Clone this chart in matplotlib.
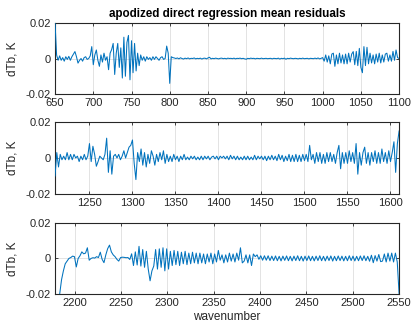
import numpy as np
import matplotlib
matplotlib.use("Agg")
import matplotlib.pyplot as plt

# mean residuals in mK (evenly spaced channels per band)
band1_range = (650, 1100)
band1_mk = [
    20, 2, -1, 1.5, -1,   0.5, -1.5, 1, -0.5, 1.2,   -1, 1, 2.5, 3.9, 1,
    -2.6, -1, 0, -1.5, 0.5,   1, -0.5, 0, 1.5, 6.7,   -3.5, 2, 4.8, -1, -4.4,
    2, -2, 3, -1, 1,   -6.3, 3, 5, 8.5, -9,   3, 8.5, -5, 6, -11,
    12, -10, 9, 13, -12,   10, -8, 8.5, -7, 3,   -4, 2, -1, 1, -1.5,
    1, -0.5, 0.5, -1, 1,   -0.5, 1, 0, -1, 0.5,   1, -0.5, 0, 7, 3,
    -14, 1, 0.5, 0.3, 0,
    0.3, -0.2, 0.4, 0, -0.3,   0.2, -0.1, 0.3, -0.2, 0.1,   0, 0.3, -0.2, 0.1, -0.1,
    0.2, -0.3, 0.1, 0.2, -0.2,   0.3, 0.7, -0.2, 0.1, -0.1,   0.2, 0, -0.2, 0.1, 0.2,
    -0.1, 0.1, -0.2, 0.2, 0,   0.1, -0.1, 0.2, -0.2, 0.1,   0, 0.2, -0.1, 0.1, -0.2,
    -0.4, 0.1, -0.1, 0.2, 0,   0.1, -0.2, 0.1, 0, -0.1,   0.2, -0.1, 0, 0.1, -0.1,
    0, 0.1, -0.2, 0.1, 0,   -0.1, 0.2, -0.3, 0.1, -0.1,   0.2, -0.4, 0.1, -0.1, 0.2,
    0, -0.1, 0.1, 0, -0.2,   0.1, -0.1, 0.2, -0.1, 0,   0.1, -0.2, 0.1, 0, -0.1,
    0.2, -0.1, 0.3, -0.2, 0.1,
    0.5, -1.5, 2, -2, 1.5,   -3, 2.5, 3, -4.4, 2,   -3, 3, -2.5, 2, -3,
    2.5, -3, 3, -2, 2.5,   3.9, -3.5, 4, -4, 5.7,   -5, -8, 6.7, -4, 6.3,
    -3, 3, -2.5, 2, -3,   2.5, -2, 3, -2.5, 2,   -2, 2.5, 3, -1.5, 2,
    -1.5, 4, -1, 4.8, 0.5,
    0,
]

band2_range = (1210, 1610)
band2_mk = [
    -10, 3, -5, 2, -1,   1, -1, 3, -1, 2,   -1, 2, 0, 1, -2,   1, -1, 2, -1, 1,
    8, -2, 6.5, 2, -4.6,   -2, 1, 0, -1, 2,   11, -8, 4, -9, 1,   2, 0, 2, -1, 1,
    4, 0, 3, 6, 7,   10, -3, -12, 3, -2,   5, -4, 3, -5, 2,   -3, 4, 1, -4, 2,
    -2, 3, -1, 4, -3,   2, -2, 1, -2, 2,   -1, 1, -2, 1, -1,   2, -1, 0.5, -1, 1,
    -0.5, 1, -1, 0.5, -1,   1, -1, 1, -0.5, 1,   -1, 0.5, 1, -0.5, 1,   -1, 1, 0, 1, -0.5,
    1, -1, 1.5, -0.5, 1,   -1, 1, -1, 0.5, -1,   1, -1, 1, -1, 0.5,   -1, 1.5, -1, 1, -0.5,
    1, -1, 1, -1.5, 1,   -1, 1.5, -1, 1, -1.5,   2, -1, 1.5, -2, 1,   -1.5, 2, -2, 1.5, -2,
    2, -2, 1.5, -2, 2,   -1.5, 2, -2, 7, -1,   2, -3, 3, -2, 3,   -3, 2, -3, 3, -2,
    3, -2, 2, -3, 3,   7, -6, 3, -3, 3,   -3, 4, -2, 3, -3,   8, -9, 3, -4, 3,
    6, -3, 3, -4, 3,   -2, 4, -3, 3, -3,   5, -2, 3, -3, 4,   -2, 3, 9, -8, 8,
    15,
]

band3_range = (2184, 2550)
band3_mk = [
    -20, -12, -7, -3, -1.5,   0, 0.5, 1.3, 1, -4.8,   0, 1.5, 3.7, 2.6, 3,
    6, -1, 0, 0.4, 0.2,   1, 0.5, 3.5, -0.5, -2.4,   2, 5.5, 7.5, 3.7, 2,
    1, -0.5, -1.5, 0.5, 0.7,   0.6, 0.4, 0.5, -0.6, 2.6,   -4, 3.7, -3.7, 6.8, -4.3,
    5, -5, 4, -6, -12.6,   -7, -4.3, 5, -6, 5.4,   -5, 6, -7, 5.4, -6,
    4, -4, 4.5, -3.5, 4,   -4, 3.5, -3, 4, -3.5,   3, -3, 3.5, -2.5, 3,
    -3, 3, -2.5, 2.5, -3,   2.5, -2, 3, -3, 2.5,   -2, 4.5, -1, 2, -2.5,
    2, -2, 3, -1.5, 2.5,   -2, 3, -1, 6, -2.5,   -1.5, 2, -2.5, 2, -4,
    2.5, 1, 2, -0.5, 1.5,   -1, 1.5, -1, 1.5, -1.2,
    1.3, -1.2, 1.4, -1.3, 1.2,   -1.4, 1.3, -1.1, 1.4, -1.3,   1.2, -1.4, 1.3, -1.2, 1.5,
    -1.3, 1.2, -1.5, 1.3, -1.2,   1.4, -1.3, 1.2, -1.4, 1.3,   -1.2, 1.5, -1.3, 1.2, -1.4,
    1.3, -1.2, 1.4, -1.5, 1.2,   -1.3, 1.4, -1.2, 1.3, -1.4,   1.2, -1.3, 1.5, -1.2, 1.3,
    -1.4, 1.2, -1.3, 1.4, -1.2,   1.5, -1.3, 1.2, -1.6, 1.8,   -2.4, 1.6, -1.5, 2.2, -1.8,
    -1.5, 2.5, -2, 3, -1.5,   3, -2, 3, -2, -20,
]

panels = [
    (band1_range, band1_mk, (650, 1100), np.arange(650, 1101, 50)),
    (band2_range, band2_mk, (1210, 1610), np.arange(1250, 1601, 50)),
    (band3_range, band3_mk, (2179, 2550), np.arange(2200, 2551, 50)),
]
yticks = [-0.02, 0, 0.02]
ytick_labels = ["-0.02", "0", "0.02"]

plt.rcParams["font.family"] = ["Liberation Sans", "DejaVu Sans"]
plt.rcParams["axes.unicode_minus"] = False

dark = (0.15, 0.15, 0.15)
line_color = "#0072BD"

fig = plt.figure(figsize=(4.14, 3.31), dpi=100)
# axes boxes in figure fraction: left, bottom, width, height
boxes = [
    (0.133, 0.716, 0.831, 0.2145),
    (0.133, 0.414, 0.831, 0.2175),
    (0.133, 0.112, 0.831, 0.2145),
]

axes = []
for (xr, vals, xlim, xt), box in zip(panels, boxes):
    ax = fig.add_axes(box)
    x = np.linspace(xr[0], xr[1], len(vals))
    y = np.array(vals) / 1000.0
    ax.plot(x, y, color=line_color, lw=0.75, zorder=3)
    ax.set_xlim(*xlim)
    ax.set_ylim(-0.02, 0.02)
    ax.set_xticks(xt)
    ax.set_xticklabels([str(v) for v in xt])
    ax.set_yticks(yticks)
    ax.set_yticklabels(ytick_labels)
    ax.grid(True, color=dark, alpha=0.15, lw=0.6)
    ax.set_axisbelow(True)
    ax.tick_params(direction="in", length=2.5, width=0.6, colors=dark,
                   labelsize=8, top=True, right=True, pad=3)
    for s in ax.spines.values():
        s.set_color(dark)
        s.set_linewidth(0.8)
    ax.set_ylabel("dTb, K", fontsize=8.5, color=dark, labelpad=5)
    axes.append(ax)

axes[0].set_title("apodized direct regression mean residuals",
                  fontsize=8.4, fontweight="bold", pad=4)
axes[2].set_xlabel("wavenumber", fontsize=8.5, color=dark, labelpad=2)

fig.savefig("out.png", dpi=100)
